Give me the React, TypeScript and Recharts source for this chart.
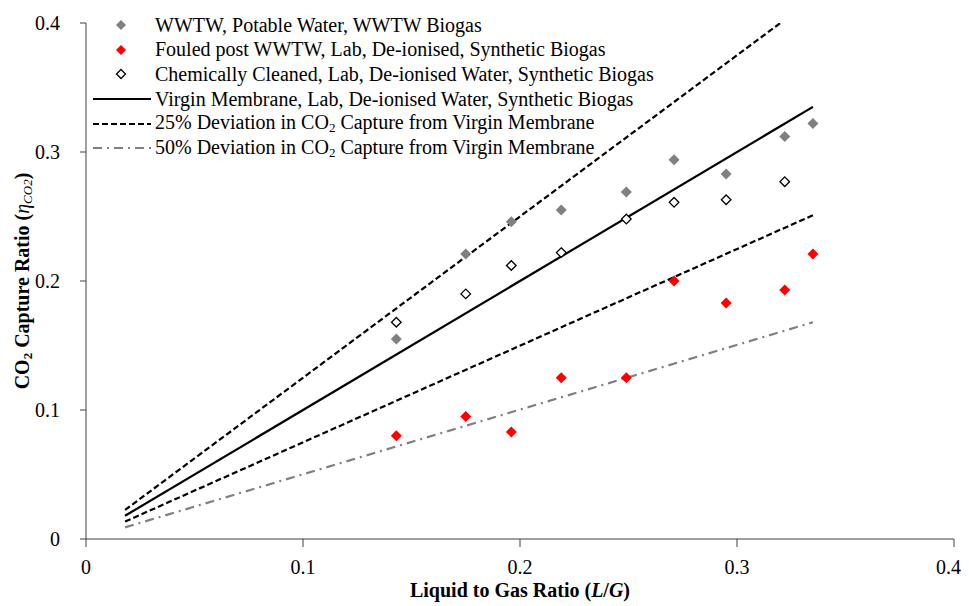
import {
  Legend,
  Scatter,
  ScatterChart,
  XAxis,
  YAxis,
} from "recharts";

// L/G ratio of each trial
const lgRatio = [0.143, 0.175, 0.196, 0.219, 0.249, 0.271, 0.295, 0.322, 0.335];
const wwtwCapture = [0.155, 0.221, 0.246, 0.255, 0.269, 0.294, 0.283, 0.312, 0.322];
const fouledCapture = [0.08, 0.095, 0.083, 0.125, 0.125, 0.2, 0.183, 0.193, 0.221];
const cleanedCapture = [0.168, 0.19, 0.212, 0.222, 0.248, 0.261, 0.263, 0.277];

// trend line end points
const lineX = [0.018, 0.335];
const virginY = [0.018, 0.335];
const dev25UpperX = [0.018, 0.32];
const dev25UpperY = [0.0225, 0.4];
const dev25LowerY = [0.0135, 0.251];
const dev50LowerY = [0.009, 0.168];

const axisTicks = [0, 0.1, 0.2, 0.3, 0.4];

const FONT = "'Liberation Serif', serif";
const AXIS = "#404040";

const toPoints = (xs: number[], ys: number[]) =>
  ys.map((y, i) => ({ x: xs[i], y }));

const wwtwData = toPoints(lgRatio, wwtwCapture);
const fouledData = toPoints(lgRatio, fouledCapture);
const cleanedData = toPoints(lgRatio, cleanedCapture);
const virginData = toPoints(lineX, virginY);
const upperData = toPoints(dev25UpperX, dev25UpperY);
const lowerData = toPoints(lineX, dev25LowerY);
const dev50Data = toPoints(lineX, dev50LowerY);

const diamond = (fill: string, stroke: string, r: number, sw = 0) => (props: any) => {
  const { cx, cy } = props;
  return (
    <polygon
      points={`${cx},${cy - r} ${cx + r},${cy} ${cx},${cy + r} ${cx - r},${cy}`}
      fill={fill}
      stroke={stroke}
      strokeWidth={sw}
    />
  );
};

const noDot = () => <g />;

const legendRows = [
  { label: "WWTW, Potable Water, WWTW Biogas", kind: "gray" },
  { label: "Fouled post WWTW, Lab, De-ionised, Synthetic Biogas", kind: "red" },
  { label: "Chemically Cleaned, Lab, De-ionised Water, Synthetic Biogas", kind: "open" },
  { label: "Virgin Membrane, Lab, De-ionised Water, Synthetic Biogas", kind: "solid" },
  { label: "25% Deviation in CO|2| Capture from Virgin Membrane", kind: "dash" },
  { label: "50% Deviation in CO|2| Capture from Virgin Membrane", kind: "dashdot" },
];

function LegendIcon({ kind }: { kind: string }) {
  return (
    <svg width={58} height={20} style={{ marginRight: 4, flex: "none" }}>
      {kind === "gray" && <polygon points="28,5 33,10 28,15 23,10" fill="#808080" />}
      {kind === "red" && <polygon points="28,5 33,10 28,15 23,10" fill="#ff0000" />}
      {kind === "open" && (
        <polygon points="28,5.5 32.5,10 28,14.5 23.5,10" fill="#fff" stroke="#000" strokeWidth={1.3} />
      )}
      {kind === "solid" && <line x1={0} y1={10} x2={58} y2={10} stroke="#000" strokeWidth={2.2} />}
      {kind === "dash" && (
        <line x1={0} y1={10} x2={58} y2={10} stroke="#000" strokeWidth={2.2} strokeDasharray="6 3" />
      )}
      {kind === "dashdot" && (
        <line x1={0} y1={10} x2={58} y2={10} stroke="#808080" strokeWidth={2.2} strokeDasharray="9 5 2 5" />
      )}
    </svg>
  );
}

function renderLabel(label: string) {
  const parts = label.split("|");
  return parts.map((p, i) =>
    i % 2 === 1 ? (
      <sub key={i} style={{ fontSize: "0.65em", verticalAlign: "-0.25em" }}>
        {p}
      </sub>
    ) : (
      <span key={i}>{p}</span>
    )
  );
}

function LegendBox() {
  return (
    <div style={{ fontFamily: FONT, fontSize: 20, color: "#000" }}>
      {legendRows.map((r) => (
        <div
          key={r.kind}
          style={{ display: "flex", alignItems: "center", height: 24.6, whiteSpace: "nowrap" }}
        >
          <LegendIcon kind={r.kind} />
          <span>{renderLabel(r.label)}</span>
        </div>
      ))}
    </div>
  );
}

const fmt = (v: number) => (v === 0 ? "0" : v.toFixed(1));

export default function App() {
  return (
    <ScatterChart
      width={953}
      height={598}
      margin={{ top: 15, right: 7, left: 0, bottom: 0 }}
      style={{ fontFamily: FONT }}
    >
      <XAxis
        type="number"
        dataKey="x"
        domain={[0, 0.4]}
        ticks={axisTicks}
        tickFormatter={fmt}
        allowDataOverflow
        height={67}
        stroke={AXIS}
        tickSize={8}
        tickMargin={13}
        tick={{ fill: "#000", fontSize: 20, fontFamily: FONT }}
        label={(props: any) => {
          const { viewBox } = props;
          const cx = viewBox.x + viewBox.width / 2;
          return (
            <text
              x={cx}
              y={589}
              textAnchor="middle"
              fontFamily={FONT}
              fontSize={20}
              fontWeight="bold"
              fill="#000"
            >
              Liquid to Gas Ratio (<tspan fontStyle="italic">L</tspan>/
              <tspan fontStyle="italic">G</tspan>)
            </text>
          );
        }}
      />
      <YAxis
        type="number"
        dataKey="y"
        domain={[0, 0.4]}
        ticks={axisTicks}
        tickFormatter={fmt}
        allowDataOverflow
        width={78}
        stroke={AXIS}
        tickSize={6}
        tickMargin={20}
        tick={{ fill: "#000", fontSize: 20, fontFamily: FONT }}
        label={(props: any) => {
          const { viewBox } = props;
          const cy = viewBox.y + viewBox.height / 2;
          const cx = 14;
          return (
            <text
              x={cx}
              y={cy}
              transform={`rotate(-90 ${cx} ${cy})`}
              textAnchor="middle"
              dominantBaseline="central"
              fontFamily={FONT}
              fontSize={20}
              fontWeight="bold"
              fill="#000"
            >
              CO
              <tspan fontSize={13} dy={5}>2</tspan>
              <tspan dy={-5}> Capture Ratio (</tspan>
              <tspan fontStyle="italic" fontWeight="normal">η</tspan>
              <tspan fontStyle="italic" fontWeight="normal" fontSize={13} dy={5}>CO2</tspan>
              <tspan dy={-5}>)</tspan>
            </text>
          );
        }}
      />
      <Legend
        layout="vertical"
        align="center"
        verticalAlign="middle"
        content={() => <LegendBox />}
        wrapperStyle={{ top: 5, left: 85, width: "auto" }}
      />
      <Scatter
        data={dev50Data}
        line={{ stroke: "#808080", strokeWidth: 2.2, strokeDasharray: "9 5 2 5" }}
        shape={noDot}
        isAnimationActive={false}
      />
      <Scatter
        data={lowerData}
        line={{ stroke: "#000", strokeWidth: 2.2, strokeDasharray: "6 3" }}
        shape={noDot}
        isAnimationActive={false}
      />
      <Scatter
        data={upperData}
        line={{ stroke: "#000", strokeWidth: 2.2, strokeDasharray: "6 3" }}
        shape={noDot}
        isAnimationActive={false}
      />
      <Scatter
        data={virginData}
        line={{ stroke: "#000", strokeWidth: 2.2 }}
        shape={noDot}
        isAnimationActive={false}
      />
      <Scatter data={wwtwData} shape={diamond("#808080", "none", 5.5)} isAnimationActive={false} />
      <Scatter data={fouledData} shape={diamond("#ff0000", "none", 5.5)} isAnimationActive={false} />
      <Scatter
        data={cleanedData}
        shape={diamond("#ffffff", "#000", 4.8, 1.3)}
        isAnimationActive={false}
      />
    </ScatterChart>
  );
}
